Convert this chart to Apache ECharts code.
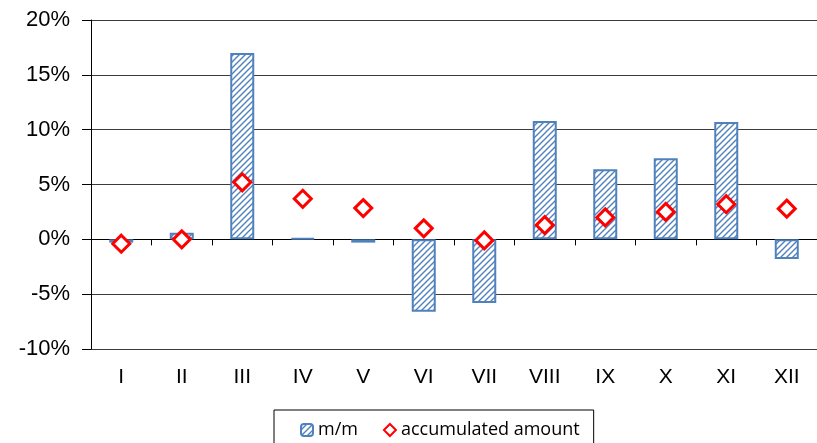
<!DOCTYPE html>
<html><head><meta charset="utf-8">
<script src="https://cdn.jsdelivr.net/npm/echarts@6/dist/echarts.min.js"></script>
<style>html,body{margin:0;padding:0;background:#fff}#c{width:817px;height:443px}</style>
</head><body><div id="c"></div>
<script>
const categories = ['I','II','III','IV','V','VI','VII','VIII','IX','X','XI','XII'];
const mmValues = [-0.3, 0.6, 17.0, 0.1, -0.3, -6.6, -5.8, 10.8, 6.4, 7.4, 10.7, -1.8];
const accumulatedValues = [-0.4, 0.0, 5.2, 3.7, 2.85, 1.0, -0.1, 1.3, 2.0, 2.5, 3.2, 2.8];
const seriesNames = ['m/m', 'accumulated amount'];

const pc = document.createElement('canvas');
pc.width = 6; pc.height = 6;
const g = pc.getContext('2d');
g.fillStyle = '#fff'; g.fillRect(0,0,6,6);
g.strokeStyle = '#4F81BD'; g.lineWidth = 1.4;
g.beginPath();
g.moveTo(-1,7); g.lineTo(7,-1);
g.moveTo(-4,4); g.lineTo(4,-4);
g.moveTo(2,10); g.lineTo(10,2);
g.stroke();

const chart = echarts.init(document.getElementById('c'), null, {renderer:'canvas'});
const fontFam = '"Liberation Sans", Arial, sans-serif';
chart.setOption({
  animation: false,
  backgroundColor: '#fff',
  grid: {left: 91, top: 20, right: -5, bottom: 94, containLabel: false},
  legend: {
    left: 274, top: 410,
    data: seriesNames,
    borderColor: '#000', borderWidth: 1, borderRadius: 0,
    padding: [11, 14, 12, 26],
    itemGap: 25, itemWidth: 12, itemHeight: 12,
    textStyle: {fontFamily: '"Open Sans", sans-serif', fontSize: 18, color: '#000'}
  },
  xAxis: [{
    type: 'category', data: categories, position: 'bottom',
    axisLine: {show: false, onZero: false},
    axisTick: {show: false},
    splitLine: {show: false},
    axisLabel: {margin: 18, fontSize: 21, fontFamily: fontFam, color: '#000'}
  }, {
    type: 'category', data: categories, position: 'bottom',
    axisLine: {show: true, onZero: true, lineStyle: {color: '#000', width: 1}},
    axisTick: {show: true, length: 6, lineStyle: {color: '#000'}},
    axisLabel: {show: false},
    splitLine: {show: false}
  }],
  yAxis: {
    type: 'value', min: -10, max: 20, interval: 5,
    axisLine: {show: true, lineStyle: {color: '#000', width: 1}},
    axisTick: {show: true, length: 9, lineStyle: {color: '#000'}},
    splitLine: {show: true, lineStyle: {color: '#3c3c3c', width: 1}},
    axisLabel: {formatter: '{value}%', margin: 21, fontSize: 22, fontFamily: fontFam, color: '#000'}
  },
  series: [{
    name: seriesNames[0], type: 'bar', xAxisIndex: 0, data: mmValues, barWidth: 24,
    itemStyle: {color: {image: pc, repeat: 'repeat'}, borderColor: '#4F81BD', borderWidth: 2}
  }, {
    name: seriesNames[1], type: 'scatter', xAxisIndex: 0, data: accumulatedValues,
    symbol: 'diamond', symbolSize: [17, 17], z: 5,
    itemStyle: {color: '#fff', borderColor: '#FF0000', borderWidth: 3, opacity: 1}
  }]
});
</script></body></html>
